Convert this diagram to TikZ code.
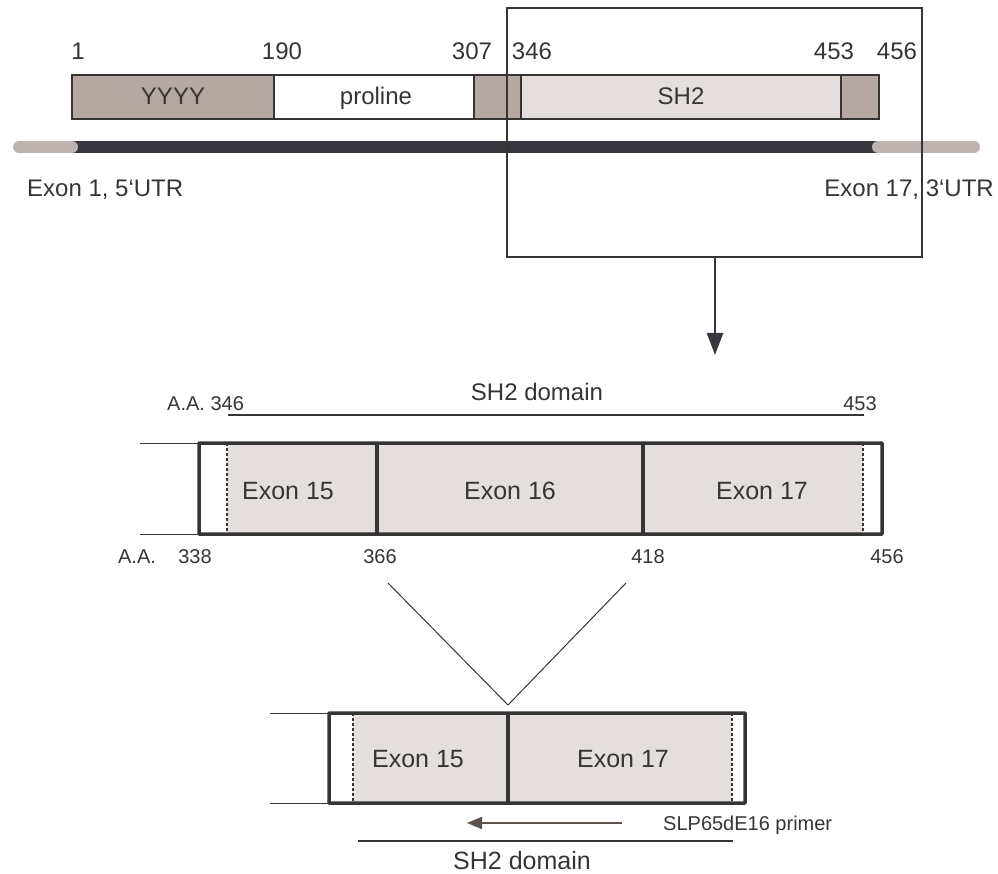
\documentclass[tikz,border=0pt]{standalone}
\usepackage{fontspec}
\setmainfont{Liberation Sans}
\usetikzlibrary{arrows.meta}
\definecolor{ink}{HTML}{353535}
\definecolor{brn}{HTML}{B5A8A3}
\definecolor{lgt}{HTML}{E4DFDD}
\definecolor{utr}{HTML}{BDB4B1}
\definecolor{gdark}{HTML}{38373D}
\definecolor{prm}{HTML}{5B514D}
\tikzset{
  lbl/.style={inner sep=0pt, anchor=base, text=ink},
  fA/.style={font=\fontsize{24}{28}\selectfont},
  fB/.style={font=\fontsize{20}{24}\selectfont},
  fC/.style={font=\fontsize{25}{29}\selectfont},
  seg/.style={draw=ink, line width=1.3pt},
  dsh/.style={draw=ink, line width=2.8pt, dash pattern=on 3pt off 2pt},
  thin/.style={draw=ink, line width=1pt},
}
\begin{document}
\begin{tikzpicture}[x=1pt,y=-1pt]
\useasboundingbox (0,0) rectangle (998,874);
% ---------- top protein bar ----------
\filldraw[seg, fill=brn] (72,75) rectangle (274,119);
\filldraw[seg, fill=white] (274,75) rectangle (474,119);
\filldraw[seg, fill=brn] (474,75) rectangle (521,119);
\filldraw[seg, fill=lgt] (521,75) rectangle (841,119);
\filldraw[seg, fill=brn] (841,75) rectangle (879,119);
\node[lbl,fA] (yyyy) at (173,105) {YYYY};
\node[lbl,fA] (pro) at (376,105) {proline};
\node[lbl,fA] (sh2) at (681,105) {SH2};
\node[lbl,fA] (n1) at (78,60) {1};
\node[lbl,fA] (n190) at (282,60) {190};
\node[lbl,fA] (n307) at (472,60) {307};
\node[lbl,fA] (n346) at (532,60) {346};
\node[lbl,fA] (n453) at (834,60) {453};
\node[lbl,fA] (n456) at (897,60) {456};
% ---------- gene line ----------
\draw[gdark, line width=12pt] (70,147) -- (880,147);
\draw[utr, line width=12pt, line cap=round] (19,147) -- (72,147);
\draw[utr, line width=12pt, line cap=round] (878,147) -- (974,147);
\node[lbl,fA,anchor=base west] (ex1) at (27,197) {Exon 1, 5‘UTR};
\node[lbl,fA,anchor=base east] (ex17) at (994,197) {Exon 17, 3‘UTR};
% ---------- zoom box ----------
\node[draw=ink, line width=1.2pt, minimum width=415pt, minimum height=249pt, inner sep=0pt] (zbox) at (714.5,132.5) {};
\coordinate (arrend) at (715,355);
\draw[draw=gdark, line width=2.5pt, -{Triangle[length=22pt,width=16pt]}] (zbox.south -| arrend) -- (arrend);
% ---------- middle exon box ----------
\node[lbl,font=\fontsize{24}{28}\selectfont] (sh2top) at (537,400) {SH2 domain};
\node[lbl,fB,anchor=base west] (aa346) at (167,410) {A.A. 346};
\node[lbl,fB] (m453) at (860,410) {453};
\coordinate (d1a) at (228,415);
\coordinate (d1b) at (864,415);
\draw[ink, line width=2pt] (d1a) -- (d1b);
\draw[thin] (140,443) -- (199,443);
\draw[thin] (140,534) -- (199,534);
\fill[white] (199,443) rectangle (882,534);
\fill[lgt] (227,443) rectangle (863,534);
\draw[dsh] (227,443) -- (227,534);
\draw[dsh] (863,443) -- (863,534);
\draw[ink, line width=3.5pt] (377,443) -- (377,534);
\draw[ink, line width=3.5pt] (643,443) -- (643,534);
\node[draw=ink, line width=3.5pt, minimum width=683pt, minimum height=91pt, inner sep=0pt, rounded corners=0.5pt] (mbox) at (540.5,488.5) {};
\node[lbl,fC] (m15) at (288,499) {Exon 15};
\node[lbl,fC] (m16) at (510,499) {Exon 16};
\node[lbl,fC] (m17) at (762,499) {Exon 17};
\node[lbl,fB] (aa) at (137,563) {A.A.};
\node[lbl,fB] (m338) at (195,563) {338};
\node[lbl,fB] (m366) at (380,563) {366};
\node[lbl,fB] (m418) at (648,563) {418};
\node[lbl,fB] (m456) at (887,563) {456};
% ---------- splice lines ----------
\coordinate (vl) at (388,583);
\coordinate (vr) at (626,583);
\coordinate (vm) at (508,705);
\draw[ink, line width=1pt] (vl) -- (vm) -- (vr);
% ---------- bottom exon box ----------
\draw[thin] (270,713) -- (329,713);
\draw[thin] (270,803) -- (329,803);
\fill[white] (329,713) rectangle (745,803);
\fill[lgt] (353,713) rectangle (732,803);
\draw[dsh] (353,713) -- (353,803);
\draw[dsh] (732,713) -- (732,803);
\draw[ink, line width=3.5pt] (508,713) -- (508,803);
\node[draw=ink, line width=3.5pt, minimum width=416pt, minimum height=90pt, inner sep=0pt, rounded corners=0.5pt] (bbox) at (537,758) {};
\node[lbl,fC] (b15) at (418,767) {Exon 15};
\node[lbl,fC] (b17) at (623,767) {Exon 17};
\coordinate (pa) at (622,823);
\coordinate (pb) at (467,823);
\draw[prm, line width=2pt, -{Triangle[length=15pt,width=12pt]}] (pa) -- (pb);
\node[lbl,fB,anchor=base west] (primer) at (663,830) {SLP65dE16 primer};
\coordinate (s2a) at (358,841);
\coordinate (s2b) at (733,841);
\draw[ink, line width=2pt] (s2a) -- (s2b);
\node[lbl,fC] (sh2bot) at (522,869) {SH2 domain};
\end{tikzpicture}
\end{document}
